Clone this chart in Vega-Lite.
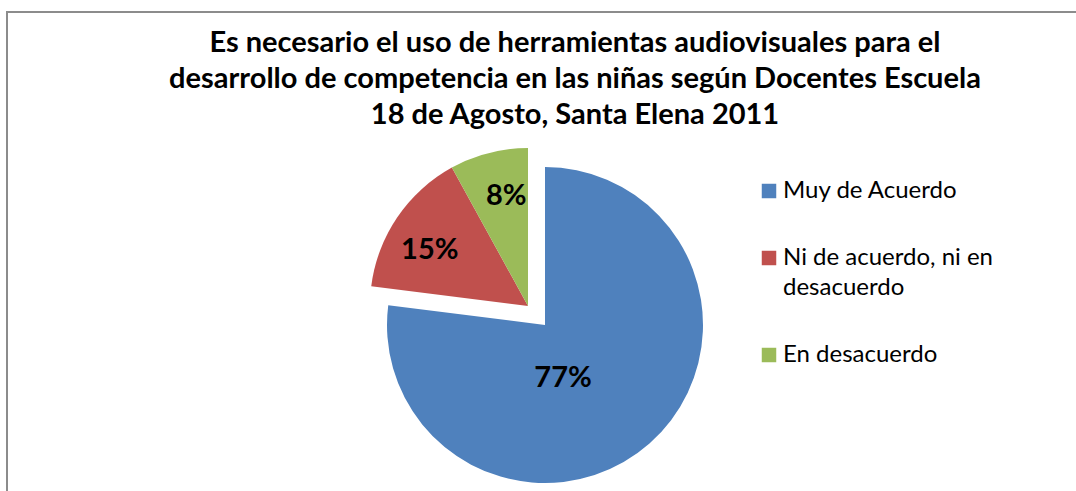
{
  "$schema": "https://vega.github.io/schema/vega-lite/v6.json",
  "autosize": "none",
  "width": 1076,
  "height": 626,
  "padding": {"left": 7, "top": 12, "right": 0, "bottom": 0},
  "background": "white",
  "view": {"stroke": "#8c8c8c", "strokeWidth": 2},
  "config": {
    "view": {"stroke": "#8c8c8c", "strokeWidth": 2},
    "font": "Lato",
    "style": {"guide-label": {"lineHeight": 30}}
  },
  "title": {
    "text": [
      "Es necesario el uso de herramientas audiovisuales para el",
      "desarrollo de competencia en las niñas según Docentes Escuela",
      "18 de Agosto, Santa Elena 2011"
    ],
    "font": "Lato",
    "fontSize": 29,
    "fontWeight": "bold",
    "color": "black",
    "lineHeight": 36,
    "anchor": "middle",
    "offset": -118,
    "dx": 30
  },
  "data": {
    "values": [
      {"categoria": "Muy de Acuerdo", "porcentaje": 77, "etiqueta": "77%"},
      {"categoria": "Ni de acuerdo, ni en desacuerdo", "porcentaje": 15, "etiqueta": "15%"},
      {"categoria": "En desacuerdo", "porcentaje": 8, "etiqueta": "8%"}
    ]
  },
  "transform": [
    {"stack": "porcentaje", "groupby": [], "as": ["inicio", "fin"], "sort": [{"field": "porcentaje", "order": "descending"}]}
  ],
  "layer": [
    {
      "transform": [{"filter": "datum.categoria === 'Muy de Acuerdo'"}],
      "mark": {"type": "arc", "outerRadius": 158},
      "encoding": {
        "theta": {"field": "inicio", "type": "quantitative", "scale": {"domain": [0, 100]}},
        "theta2": {"field": "fin"},
        "color": {
          "field": "categoria",
          "type": "nominal",
          "scale": {
            "domain": ["Muy de Acuerdo", "Ni de acuerdo, ni en desacuerdo", "En desacuerdo"],
            "range": ["#4F81BD", "#C0504D", "#9BBB59"]
          },
          "legend": {
            "title": null,
            "orient": "none",
            "legendX": 750,
            "legendY": 167,
            "symbolType": "square",
            "symbolSize": 210,
            "symbolStrokeWidth": 0,
            "labelFont": "Lato",
            "labelFontSize": 24,
            "labelColor": "black",
            "labelOffset": 2,
            "labelLimit": 400,
            "rowPadding": 43,
            "labelExpr": "datum.label === 'Ni de acuerdo, ni en desacuerdo' ? ['Ni de acuerdo, ni en', 'desacuerdo'] : datum.label"
          }
        }
      }
    },
    {
      "transform": [{"filter": "datum.categoria !== 'Muy de Acuerdo'"}],
      "mark": {"type": "arc", "outerRadius": 158, "xOffset": -17, "yOffset": -19},
      "encoding": {
        "theta": {"field": "inicio", "type": "quantitative", "scale": {"domain": [0, 100]}},
        "theta2": {"field": "fin"},
        "color": {"field": "categoria", "type": "nominal"}
      }
    },
    {
      "mark": {"type": "text", "radius": 56, "dx": -19, "dy": 11, "font": "Lato", "fontSize": 29, "fontWeight": "bold", "color": "black"},
      "encoding": {
        "theta": {"field": "porcentaje", "type": "quantitative", "stack": true},
        "order": {"field": "porcentaje", "sort": "descending"},
        "text": {"condition": {"test": "datum.categoria === 'Muy de Acuerdo'", "field": "etiqueta"}, "value": ""}
      }
    },
    {
      "mark": {"type": "text", "radius": 132, "dx": -6, "dy": -1, "font": "Lato", "fontSize": 29, "fontWeight": "bold", "color": "black"},
      "encoding": {
        "theta": {"field": "porcentaje", "type": "quantitative", "stack": true},
        "order": {"field": "porcentaje", "sort": "descending"},
        "text": {"condition": {"test": "datum.categoria !== 'Muy de Acuerdo'", "field": "etiqueta"}, "value": ""}
      }
    }
  ]
}
